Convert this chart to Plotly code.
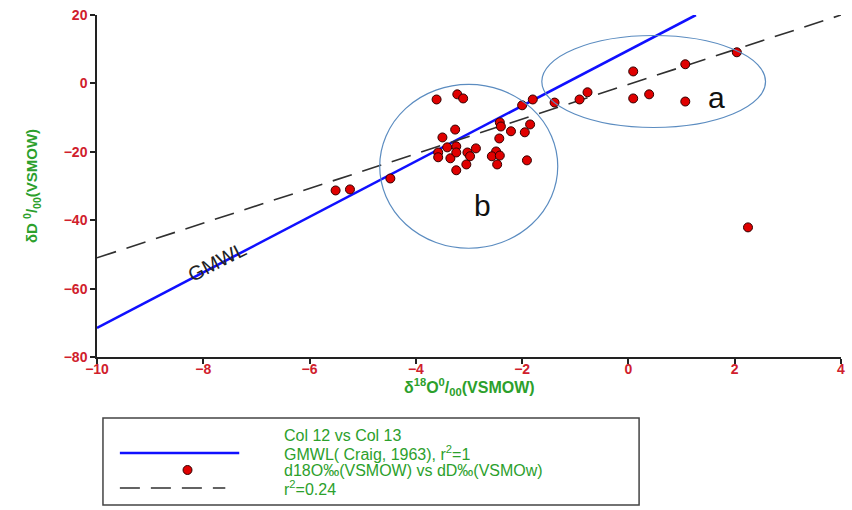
import plotly.graph_objects as go

# --- data ---
d18O = [-3.61, -3.22, -3.11, -3.26, -3.50, -3.58, -3.58, -3.41, -3.24, -3.35,
        -3.24, -3.03, -2.87, -2.98, -3.05, -3.24, -2.49, -2.57, -2.42, -2.47,
        -1.91, -2.43, -2.42, -2.40, -2.21, -1.85, -1.95, -2.00, -1.80, -1.39,
        -4.48, -5.24, -5.51, -0.92, -0.77, 0.09, 0.09, 0.39, 1.07, 1.07,
        2.04, 2.25]
dD = [-4.7, -3.2, -4.4, -13.5, -15.8, -20.2, -21.6, -18.7, -18.4, -21.9,
      -20.2, -20.2, -19.0, -21.3, -23.7, -25.4, -19.9, -21.3, -21.1, -23.7,
      -22.5, -16.1, -11.4, -12.6, -14.0, -12.0, -14.3, -6.4, -4.7, -5.6,
      -27.8, -31.0, -31.3, -4.7, -2.6, 3.5, -4.4, -3.2, 5.6, -5.3,
      9.1, -42.1]

gmwl_x = [-10, 1.27]
gmwl_y = [-71.5, 20]
fit_x = [-10, 4]
fit_y = [-51, 20]

x_ticks = [-10, -8, -6, -4, -2, 0, 2, 4]
y_ticks = [-80, -60, -40, -20, 0, 20]

legend_texts = ["Col 12 vs Col 13",
                "GMWL( Craig, 1963), r<sup>2</sup>=1",
                "d18O\u2030(VSMOW) vs dD\u2030(VSMOw)",
                "r<sup>2</sup>=0.24"]

# --- layout geometry (pixels) ---
W, H = 852, 510
L, R, T, B = 97, 845, 15, 357


def px(x):
    return (x - L) / (R - L)


def py(y):
    return (B - y) / (B - T)


RED = "#d0202c"
GREEN = "#2ca02c"
FONT = "Liberation Sans, Arial, sans-serif"

fig = go.Figure()
fig.add_trace(go.Scatter(x=gmwl_x, y=gmwl_y, mode="lines",
                         line=dict(color="#1010ff", width=2.6),
                         hoverinfo="skip", showlegend=False))
fig.add_trace(go.Scatter(x=fit_x, y=fit_y, mode="lines",
                         line=dict(color="#303030", width=1.6, dash="20px,11px"),
                         hoverinfo="skip", showlegend=False))
fig.add_trace(go.Scatter(x=d18O, y=dD, mode="markers",
                         marker=dict(color="#e00000", size=9,
                                     line=dict(color="#300000", width=1)),
                         showlegend=False))

shapes = [
    # ellipses a and b
    dict(type="circle", xref="x", yref="y", x0=-4.68, x1=-1.33, y0=-48.2, y1=-0.3,
         line=dict(color="#5b8cc0", width=1.2)),
    dict(type="circle", xref="x", yref="y", x0=-1.63, x1=2.58, y0=-12.9, y1=14.0,
         line=dict(color="#5b8cc0", width=1.2)),
    # legend box
    dict(type="rect", xref="paper", yref="paper", x0=px(103), x1=px(642),
         y0=py(505), y1=py(418), line=dict(color="#444444", width=1.5)),
    dict(type="line", xref="paper", yref="paper", x0=px(120), x1=px(240),
         y0=py(453), y1=py(453), line=dict(color="#1010ff", width=2.6)),
    dict(type="line", xref="paper", yref="paper", x0=px(120), x1=px(226),
         y0=py(488), y1=py(488), line=dict(color="#303030", width=1.6, dash="20px,11px")),
    dict(type="circle", xref="paper", yref="paper", x0=px(183.5), x1=px(192.5),
         y0=py(474.5), y1=py(465.5), fillcolor="#e00000",
         line=dict(color="#300000", width=1)),
]

annotations = [
    dict(x=-7.75, y=-52.3, xref="x", yref="y", text="GMWL", showarrow=False,
         textangle=-27, font=dict(family=FONT, size=20, color="#222222")),
    dict(x=1.65, y=-4.1, xref="x", yref="y", text="a", showarrow=False,
         font=dict(family="Liberation Sans, Arial", size=30, color="#111111")),
    dict(x=-2.75, y=-35.7, xref="x", yref="y", text="b", showarrow=False,
         font=dict(family="Liberation Sans, Arial", size=30, color="#111111")),
    # x axis title
    dict(x=px(471), y=py(387), xref="paper", yref="paper", xanchor="center",
         yanchor="middle", showarrow=False,
         text="\u03b4<sup>18</sup>O<sup>0</sup>/<sub>00</sub>(VSMOW)",
         font=dict(family=FONT, size=16, color=GREEN, weight="bold")),
]
for i, (t, yy) in enumerate(zip(legend_texts, [435, 453, 470, 488])):
    annotations.append(dict(x=px(283), y=py(yy), xref="paper", yref="paper",
                            xanchor="left", yanchor="middle", text=t,
                            showarrow=False,
                            font=dict(family=FONT, size=16, color=GREEN)))

axis_common = dict(showgrid=False, zeroline=False, showline=True,
                   linecolor="#222222", linewidth=1.5, ticks="outside",
                   ticklen=5, tickwidth=1.5, tickcolor="#222222",
                   tickfont=dict(family=FONT, size=14, color=RED, weight="bold"),
                   mirror=False)

fig.update_layout(
    width=W, height=H,
    margin=dict(l=L, r=W - R, t=T, b=H - B),
    plot_bgcolor="white", paper_bgcolor="white",
    xaxis=dict(range=[-10, 4], tickvals=x_ticks, ticklabelstandoff=-7, **axis_common),
    yaxis=dict(range=[-80, 20], tickvals=y_ticks, **axis_common,
               title=dict(text="\u03b4D <sup>0</sup>/<sub>00</sub>(VSMOW)",
                          font=dict(family=FONT, size=15, color=GREEN, weight="bold"),
                          standoff=22)),
    shapes=shapes,
    annotations=annotations,
    showlegend=False,
)

fig.write_html("out.html", config={"displayModeBar": False},
               post_script="document.body.style.margin='0';document.body.style.overflow='hidden';")
